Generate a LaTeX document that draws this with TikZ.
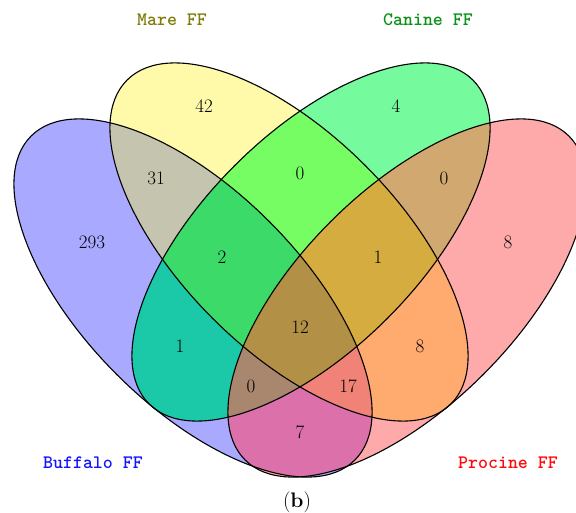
\documentclass[tikz,border=0pt]{standalone}
\usepackage{fontspec}

% region colours (each region painted opaque)
\definecolor{cB}{RGB}{169,170,255}
\definecolor{cM}{RGB}{255,250,170}
\definecolor{cC}{RGB}{117,250,157}
\definecolor{cP}{RGB}{255,170,170}
\definecolor{cBM}{RGB}{197,197,175}
\definecolor{cMC}{RGB}{118,253,100}
\definecolor{cCP}{RGB}{208,168,112}
\definecolor{cBC}{RGB}{27,201,169}
\definecolor{cMP}{RGB}{255,170,110}
\definecolor{cBP}{RGB}{220,112,170}
\definecolor{cBMC}{RGB}{60,218,105}
\definecolor{cMCP}{RGB}{213,172,64}
\definecolor{cBCP}{RGB}{168,135,110}
\definecolor{cBMP}{RGB}{240,130,120}
\definecolor{cBMCP}{RGB}{178,145,70}
\definecolor{cBM}{RGB}{197,197,175}
\definecolor{tB}{RGB}{20,20,255}
\definecolor{tM}{RGB}{128,124,10}
\definecolor{tC}{RGB}{10,145,25}
\definecolor{tP}{RGB}{255,10,10}

% the four ellipses
\newcommand\ellB{[shift={(193,298)},rotate=-45] (0,0) ellipse [x radius=229pt,y radius=108pt]}
\newcommand\clipB{\clip[shift={(193,298)},rotate=-45] (0,0) ellipse [x radius=229pt,y radius=108pt];}
\newcommand\clipM{\clip[shift={(289,242)},rotate=-45] (0,0) ellipse [x radius=229pt,y radius=108pt];}
\newcommand\clipC{\clip[shift={(311,242)},rotate=45] (0,0) ellipse [x radius=229pt,y radius=108pt];}
\newcommand\clipP{\clip[shift={(407,298)},rotate=45] (0,0) ellipse [x radius=229pt,y radius=108pt];}
\newcommand\paint[1]{\fill[#1] (0,0) rectangle (576,513);}

\tikzset{
  outline/.style={draw=black,line width=1.1pt},
  count/.style={font=\fontsize{19}{22}\selectfont,inner sep=0pt},
  setname/.style={font=\fontsize{19}{22}\selectfont\ttfamily\bfseries,inner sep=0pt}
}

\begin{document}
\begin{tikzpicture}[x=1pt,y=-1pt]
\useasboundingbox (0,0) rectangle (576,513);

% single sets
\begin{scope}\clipB\paint{cB}\end{scope}
\begin{scope}\clipM\paint{cM}\end{scope}
\begin{scope}\clipC\paint{cC}\end{scope}
\begin{scope}\clipP\paint{cP}\end{scope}
% pairs
\begin{scope}\clipB\clipM\paint{cBM}\end{scope}
\begin{scope}\clipM\clipC\paint{cMC}\end{scope}
\begin{scope}\clipC\clipP\paint{cCP}\end{scope}
\begin{scope}\clipB\clipC\paint{cBC}\end{scope}
\begin{scope}\clipM\clipP\paint{cMP}\end{scope}
\begin{scope}\clipB\clipP\paint{cBP}\end{scope}
% triples
\begin{scope}\clipB\clipM\clipC\paint{cBMC}\end{scope}
\begin{scope}\clipM\clipC\clipP\paint{cMCP}\end{scope}
\begin{scope}\clipB\clipC\clipP\paint{cBCP}\end{scope}
\begin{scope}\clipB\clipM\clipP\paint{cBMP}\end{scope}
% all four
\begin{scope}\clipB\clipM\clipC\clipP\paint{cBMCP}\end{scope}

% outlines
\draw[outline,shift={(193,298)},rotate=-45] (0,0) ellipse [x radius=229pt,y radius=108pt];
\draw[outline,shift={(289,242)},rotate=-45] (0,0) ellipse [x radius=229pt,y radius=108pt];
\draw[outline,shift={(311,242)},rotate=45] (0,0) ellipse [x radius=229pt,y radius=108pt];
\draw[outline,shift={(407,298)},rotate=45] (0,0) ellipse [x radius=229pt,y radius=108pt];

% counts
\node[count] (nB)    at (92,242)  {293};
\node[count] (nM)    at (204,106) {42};
\node[count] (nC)    at (396,106) {4};
\node[count] (nP)    at (508,242) {8};
\node[count] (nBM)   at (156,178) {31};
\node[count] (nMC)   at (300,173) {0};
\node[count] (nCP)   at (444,178) {0};
\node[count] (nBMC)  at (222,257) {2};
\node[count] (nMCP)  at (378,257) {1};
\node[count] (nBMCP) at (300,327) {12};
\node[count] (nBC)   at (180,346) {1};
\node[count] (nMP)   at (420,346) {8};
\node[count] (nBCP)  at (251,386) {0};
\node[count] (nBMP)  at (348,386) {17};
\node[count] (nBP)   at (300,432) {7};

% set names
\node[setname,text=tM] (lM) at (172,20)  {Mare FF};
\node[setname,text=tC] (lC) at (428,20)  {Canine FF};
\node[setname,text=tB] (lB) at (93,463)  {Buffalo FF};
\node[setname,text=tP] (lP) at (508,463) {Procine FF};

% panel tag
\node[font=\fontsize{21}{24}\selectfont,inner sep=0pt] (tag) at (297,502) {(\textbf{b})};
\end{tikzpicture}
\end{document}
